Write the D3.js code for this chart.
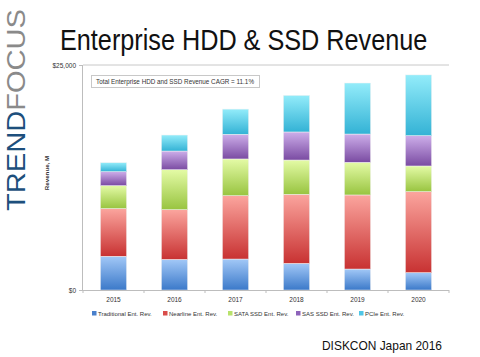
<!DOCTYPE html>
<html><head><meta charset="utf-8">
<script src="https://cdn.jsdelivr.net/npm/d3@7/dist/d3.min.js"></script>
<style>body{margin:0;background:#fff}svg{display:block}</style>
</head><body>
<script>
const years = ["2015","2016","2017","2018","2019","2020"];
const seriesNames = ["Traditional Ent. Rev.","Nearline Ent. Rev.","SATA SSD Ent. Rev.","SAS SSD Ent. Rev.","PCIe Ent. Rev."];
const traditional = [3750,3400,3440,2960,2330,1930];
const nearline    = [5300,5530,7040,7670,8230,9000];
const sataSSD     = [2550,4440,4080,3810,3630,2850];
const sasSSD      = [1550,2070,2740,3120,3140,3370];
const pcie        = [1000,1780,2800,4070,5670,6750];
const yTicks = [0,25000];
const yTickLabels = ["$0","$25,000"];

const W=480,H=357;
const svg=d3.select("body").append("svg").attr("width",W).attr("height",H);
const defs=svg.append("defs");
const grads=[["#a2c8f7","#3b79c9"],["#fba59e","#c83232"],["#e4fba6","#98c440"],["#cdaeea","#7a4ba2"],["#93ecfa","#33b2d5"]];
const legendCols=["#4a80cc","#da4d4a","#b8e26c","#8d63ba","#4fc6e6"];
grads.forEach((g,i)=>{
  const lg=defs.append("linearGradient").attr("id","g"+i).attr("x1",0).attr("x2",0).attr("y1",0).attr("y2",1);
  lg.append("stop").attr("offset","0%").attr("stop-color",g[0]);
  lg.append("stop").attr("offset","100%").attr("stop-color",g[1]);
});

// logo
const logo=svg.append("text").attr("transform","translate(25,211) rotate(-90)")
  .attr("font-family","Liberation Sans, Arial, sans-serif").attr("font-size",26.5).attr("font-weight","normal")
  .attr("textLength",202).attr("lengthAdjust","spacingAndGlyphs");
logo.append("tspan").attr("fill","#1d4f7c").text("TREND");
logo.append("tspan").attr("fill","#8a8a8a").text("FOCUS");

// title (condensed via horizontal scale)
svg.append("text").attr("transform","translate(60,50) scale(0.87,1)").attr("font-family","Liberation Sans, Arial, sans-serif")
  .attr("font-size",29).attr("fill","#111")
  .text("Enterprise HDD & SSD Revenue");

const x0=83,x1=449,yTop=65,yBot=290;
const x=d3.scaleBand().domain(years).range([x0,x1]).paddingInner(0.57).paddingOuter(0.285);
const y=d3.scaleLinear().domain([0,25000]).range([yBot,yTop]);

const data=years.map((yr,i)=>({year:yr,s0:traditional[i],s1:nearline[i],s2:sataSSD[i],s3:sasSSD[i],s4:pcie[i]}));
const stack=d3.stack().keys(["s0","s1","s2","s3","s4"])(data);

// top line (gridline at max)
svg.append("line").attr("x1",x0).attr("x2",x1).attr("y1",y(25000)).attr("y2",y(25000)).attr("stroke","#c8c8c8").attr("stroke-width",1);

const g=svg.append("g");
stack.forEach((layer,i)=>{
  g.selectAll(null).data(layer).join("rect")
   .attr("x",d=>x(d.data.year)).attr("width",x.bandwidth())
   .attr("y",d=>y(d[1])).attr("height",d=>y(d[0])-y(d[1]))
   .attr("fill","url(#g"+i+")").attr("stroke","#f2f2f2").attr("stroke-width",0.5);
});

// y axis
const yAx=svg.append("g").attr("transform",`translate(${x0},0)`)
  .call(d3.axisLeft(y).tickValues(yTicks).tickFormat((d,i)=>yTickLabels[i]).tickSize(4).tickPadding(3));
yAx.select(".domain").attr("stroke","#bdbdbd").attr("d",`M-0.5,${yTop}V${yBot}`);
yAx.selectAll(".tick line").attr("stroke","#bdbdbd");
yAx.selectAll("text").attr("font-family","Liberation Sans, Arial, sans-serif").attr("font-size",6.5).attr("fill","#333");

// x axis
const xAx=svg.append("g").attr("transform",`translate(0,${yBot})`)
  .call(d3.axisBottom(x).tickSize(0).tickPadding(7));
xAx.select(".domain").attr("stroke","#bdbdbd").attr("d",`M${x0},0.5H${x1}`);
xAx.selectAll("text").attr("font-family","Liberation Sans, Arial, sans-serif").attr("font-size",6.5).attr("fill","#333");
const step=x.step();
d3.range(7).forEach(k=>{
  xAx.append("line").attr("x1",x0+k*step).attr("x2",x0+k*step).attr("y1",0).attr("y2",3).attr("stroke","#bdbdbd");
});

// y label
svg.append("text").attr("transform","translate(49,173) rotate(-90)").attr("text-anchor","middle")
  .attr("font-family","Liberation Sans, Arial, sans-serif").attr("font-size",6.2).attr("font-weight","bold").attr("fill","#333")
  .text("Revenue, M");

// annotation box
svg.append("rect").attr("x",91.5).attr("y",75.5).attr("width",168).attr("height",12).attr("fill","#fff").attr("stroke","#c8c8c8");
svg.append("text").attr("x",96).attr("y",84).attr("font-family","Liberation Sans, Arial, sans-serif").attr("font-size",6.6).attr("fill","#333")
  .attr("textLength",158).attr("lengthAdjust","spacingAndGlyphs")
  .text("Total Enterprise HDD and SSD Revenue CAGR = 11.1%");

// legend
const legX=[92,163,228,296,359];
seriesNames.forEach((n,i)=>{
  svg.append("rect").attr("x",legX[i]).attr("y",311).attr("width",4.5).attr("height",4.5).attr("fill",legendCols[i]);
  svg.append("text").attr("x",legX[i]+6).attr("y",316).attr("font-family","Liberation Sans, Arial, sans-serif")
    .attr("font-size",6).attr("fill","#333").text(n);
});

// footer
svg.append("text").attr("x",322).attr("y",350).attr("font-family","Liberation Sans, Arial, sans-serif")
  .attr("font-size",13.5).attr("fill","#111").attr("textLength",120).attr("lengthAdjust","spacingAndGlyphs").text("DISKCON Japan 2016");
</script>
</body></html>
